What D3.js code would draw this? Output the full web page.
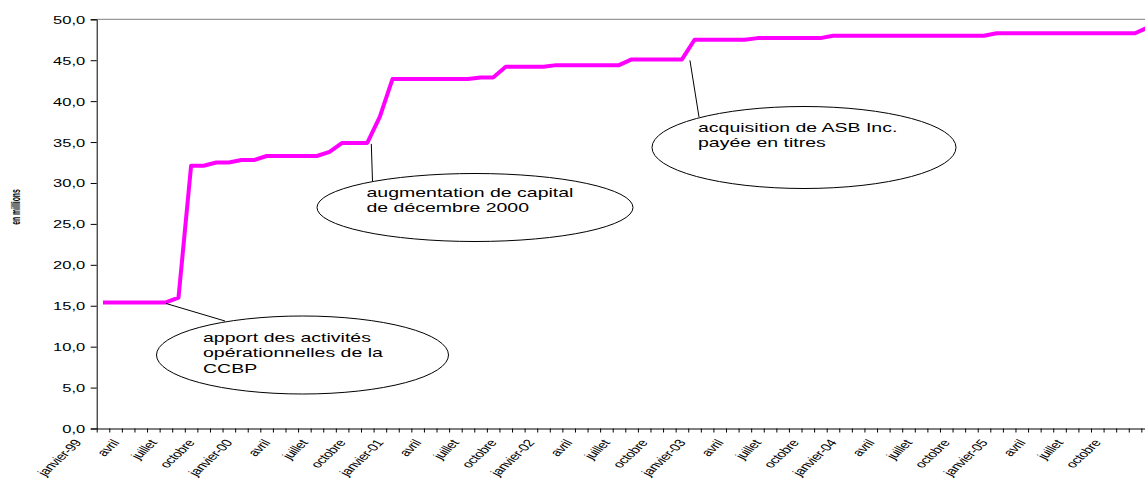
<!DOCTYPE html>
<html>
<head>
<meta charset="utf-8">
<script src="https://cdn.jsdelivr.net/npm/d3@7"></script>
<style>
body { margin: 0; background: #fff; }
svg { display: block; font-family: 'Liberation Sans', Arial, sans-serif; }
</style>
</head>
<body>
<svg></svg>
<script>
// monthly values, janvier-99 .. decembre-05 (en millions)
var values = [
	15.4, 15.4, 15.4, 15.4, 15.4, 15.4, 16.0, 32.1, 32.1, 32.5, 32.5, 32.8,
	32.8, 33.3, 33.3, 33.3, 33.3, 33.3, 33.8, 34.9, 34.9, 34.9, 38.1, 42.7,
	42.7, 42.7, 42.7, 42.7, 42.7, 42.7, 42.9, 42.9, 44.2, 44.2, 44.2, 44.2,
	44.4, 44.4, 44.4, 44.4, 44.4, 44.4, 45.1, 45.1, 45.1, 45.1, 45.1, 47.5,
	47.5, 47.5, 47.5, 47.5, 47.7, 47.7, 47.7, 47.7, 47.7, 47.7, 48.0, 48.0,
	48.0, 48.0, 48.0, 48.0, 48.0, 48.0, 48.0, 48.0, 48.0, 48.0, 48.0, 48.3,
	48.3, 48.3, 48.3, 48.3, 48.3, 48.3, 48.3, 48.3, 48.3, 48.3, 48.3, 49.0
]

// one label every 3 months
var tickLabels = [
	'janvier-99', 'avril', 'juillet', 'octobre',
	'janvier-00', 'avril', 'juillet', 'octobre',
	'janvier-01', 'avril', 'juillet', 'octobre',
	'janvier-02', 'avril', 'juillet', 'octobre',
	'janvier-03', 'avril', 'juillet', 'octobre',
	'janvier-04', 'avril', 'juillet', 'octobre',
	'janvier-05', 'avril', 'juillet', 'octobre'
]

var yTicks = [0, 5, 10, 15, 20, 25, 30, 35, 40, 45, 50]

var callouts = [
	{lines: ['apport des activités', 'opérationnelles de la', 'CCBP'], idx: 5, dx: 0, ex: 225, ey: 321, cx: 302.5, cy: 355, rx: 146, ry: 39, tx: 203, ty: 342},
	{lines: ['augmentation de capital', 'de décembre 2000'], idx: 21, dx: 4, ex: 372.5, ey: 181.5, cx: 475, cy: 207.5, rx: 158, ry: 34, tx: 366.5, ty: 197},
	{lines: ['acquisition de ASB Inc.', 'payée en titres'], idx: 46, dx: 8, ex: 699, ey: 117, cx: 804, cy: 147.5, rx: 152, ry: 41, tx: 698, ty: 131.5}
]

var width = 1145
var height = 479
var stretch = 1.5 // text in the source is drawn wide

var svg = d3.select('svg')
svg.attr('width', width).attr('height', height)

var step = 12.586
var x0 = 96.7
var x = d3.scaleLinear().domain([0, values.length]).range([x0, x0 + values.length * step])
var y = d3.scaleLinear().domain([0, 50]).range([428.5, 19.3])

// plot area top border
svg.append('line')
	.attr('x1', x0).attr('x2', width)
	.attr('y1', y(50)).attr('y2', y(50))
	.attr('stroke', '#808080').attr('stroke-width', 1)

// y axis
var yAxis = svg.append('g')
	.attr('transform', 'translate(' + x0 + ',0)')
	.call(d3.axisLeft(y).tickValues(yTicks).tickSize(6).tickPadding(0)
		.tickFormat(function(d) {return d.toFixed(1).replace('.', ',')}))
yAxis.select('.domain').attr('stroke', '#000')
yAxis.selectAll('.tick line').attr('stroke', '#000')
yAxis.selectAll('.tick text')
	.attr('x', -11.5 / stretch)
	.attr('dy', '0.36em')
	.attr('transform', 'scale(' + stretch + ',1)')
	.attr('font-size', 11)
	.attr('font-family', "'Liberation Sans', Arial, sans-serif")
	.attr('fill', '#000')

// x axis, ticks between categories
var xAxis = svg.append('g')
	.attr('transform', 'translate(0,' + y(0) + ')')
	.call(d3.axisBottom(x).tickValues(d3.range(0, values.length + 1)).tickSize(4).tickSizeOuter(0).tickFormat(''))
xAxis.select('.domain').attr('stroke', '#000')
xAxis.selectAll('.tick line').attr('stroke', '#000')

svg.append('g').selectAll('text')
	.data(tickLabels)
	.enter().append('text')
	.text(function(d) {return d})
	.attr('text-anchor', 'end')
	.attr('font-size', 10.2)
	.attr('letter-spacing', -0.3)
	.attr('transform', function(d, i) {
		var cx = x(i * 3 + 0.5) - 21
		return 'translate(' + cx + ',' + 443 + ') scale(' + stretch + ',1) rotate(-54)'
	})

// y title
svg.append('text')
	.text('en millions')
	.attr('text-anchor', 'middle')
	.attr('font-size', 8)
	.attr('font-weight', 'bold')
	.attr('transform', 'translate(20,207) scale(1.5,0.85) rotate(-90)')

// series line
var line = d3.line()
	.x(function(d, i) {return x(i + 0.5)})
	.y(function(d) {return y(d)})

svg.append('path')
	.datum(values)
	.attr('d', line)
	.attr('fill', 'none')
	.attr('stroke', '#FF00FF')
	.attr('stroke-width', 4)
	.attr('stroke-linejoin', 'round')

// callouts
var callGroup = svg.append('g')
callouts.forEach(function(c) {
	callGroup.append('line')
		.attr('x1', x(c.idx + 0.5) + c.dx).attr('y1', y(values[c.idx]) + 1)
		.attr('x2', c.ex).attr('y2', c.ey)
		.attr('stroke', '#000').attr('stroke-width', 1)
	callGroup.append('ellipse')
		.attr('cx', c.cx).attr('cy', c.cy)
		.attr('rx', c.rx).attr('ry', c.ry)
		.attr('fill', '#fff').attr('stroke', '#000').attr('stroke-width', 1)
	var t = callGroup.append('text')
		.attr('font-size', 13)
		.attr('transform', 'translate(' + c.tx + ',' + c.ty + ') scale(' + stretch + ',1)')
	t.selectAll('tspan')
		.data(c.lines)
		.enter().append('tspan')
		.attr('x', 0)
		.attr('y', function(d, i) {return i * 15.5})
		.text(function(d) {return d})
})
</script>
</body>
</html>
